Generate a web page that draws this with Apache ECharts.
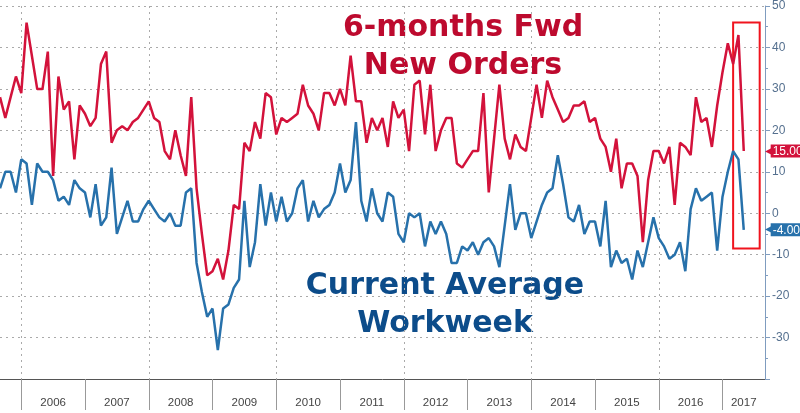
<!DOCTYPE html>
<html>
<head>
<meta charset="utf-8">
<script src="https://cdn.jsdelivr.net/npm/echarts@6/dist/echarts.min.js"></script>
<style>
  html, body { margin: 0; padding: 0; background: #fff; }
  #chart { width: 800px; height: 413px; }
</style>
</head>
<body>
<div id="chart"></div>
<script>
// monthly readings, Sep 2005 .. May 2017
const firstYear = 2005;
const firstMonth = 9;
const monthCount = 145; // axis runs to Sep 2017

const yearLabels = ['2006', '2007', '2008', '2009', '2010', '2011', '2012', '2013', '2014', '2015', '2016', '2017'];

// 6-months forward new orders
const newOrders = [
  28, 23, 28, 33,
  29, 46, 38, 30, 30, 39, 9, 33, 25, 27, 13, 26,
  24, 21, 23, 36, 39, 17, 20, 21, 20, 22, 23, 25,
  27, 23, 22, 15, 13, 20, 14, 9, 28, 6, -5, -15,
  -14, -11, -16, -9, 2, 1, 17, 15, 22, 18, 29, 28,
  19, 23, 22, 23, 24, 31, 26, 24, 20, 29, 29, 26,
  30, 26, 38, 27, 27, 17, 23, 20, 23, 16, 27, 23,
  25, 15, 31, 32, 19, 31, 15, 20, 23, 23, 12, 11,
  13, 15, 15, 29, 5, 18, 31, 18, 13, 19, 16, 15,
  23, 31, 23, 32, 28, 25, 22, 23, 26, 26, 27, 22,
  23, 18, 16, 10, 18, 6, 12, 12, 9, -7, 8, 15,
  15, 12, 16, 2, 17, 16, 14, 28, 22, 23, 16, 26,
  34, 41, 36, 43, 15
];

// current average workweek
const workweek = [
  6, 10, 10, 5,
  13, 12, 2, 12, 10, 10, 8, 3, 4, 2, 8, 6,
  5, -1, 7, -3, -1, 11, -5, -1, 3, -2, -2, 1,
  3, 1, -1, -2, 0, -3, -3, 5, 6, -12, -19, -25,
  -23, -33, -23, -22, -18, -16, 3, -13, -7, 7, -3, 5,
  -2, 4, -2, 0, 6, 8, -2, 3, -1, 1, 2, 5,
  12, 5, 8, 22, 3, -2, 6, 0, -2, 5, 4, -5,
  -7, 0, -1, 0, -8, -2, -5, -2, -5, -12, -12, -8,
  -9, -7, -10, -7, -6, -8, -13, -3, 7, -4, 0, 0,
  -6, -2, 2, 5, 6, 14, 7, -1, -2, 2, -5, -2,
  -2, -8, 3, -13, -9, -12, -11, -16, -9, -13, -7, -1,
  -6, -8, -11, -10, -7, -14, 1, 6, 3, 4, 5, -9,
  4, 10, 15, 13, -4
];

// highlighted window (red box)
const boxFrom = '2017-03';
const boxTo = '2017-08';
const boxTop = 46;
const boxBottom = -8.5;

const RED = '#d3123b';
const BLUE = '#2771ab';

const months = [];
for (let k = 0; k < monthCount; k++) {
  const m = firstMonth - 1 + k;
  const y = firstYear + Math.floor(m / 12);
  months.push(y + '-' + String((m % 12) + 1).padStart(2, '0'));
}

// year label sits in the middle of its year's span on the axis
const labelAt = {};
yearLabels.forEach((yr) => {
  const jan = months.indexOf(yr + '-01');
  const end = Math.min(jan + 12, months.length - 1);
  labelAt[Math.round((jan + end) / 2)] = yr;
});

function lastTag(values, color) {
  const last = values[values.length - 1];
  return {
    silent: true,
    symbol: ['none', 'none'],
    lineStyle: { color: 'rgba(0,0,0,0)', width: 1 },
    label: {
      show: true,
      position: 'end',
      distance: 0,
      formatter: '{a|◀}{b|' + last.toFixed(2) + '}',
      rich: {
        a: { color: color, fontSize: 10, padding: [0, -2, 0, 0], fontFamily: 'DejaVu Sans' },
        b: { color: '#fff', backgroundColor: color, fontSize: 12, padding: [1, 3, 0, 2], fontFamily: 'Liberation Sans' }
      }
    },
    emphasis: { disabled: true },
    data: [{ yAxis: last }]
  };
}

const dotted = { color: '#aaa', type: [2, 4], width: 1 };

const chart = echarts.init(document.getElementById('chart'));
chart.setOption({
  animation: false,
  grid: { left: -2, right: 35, top: 1, bottom: 34 },
  xAxis: {
    type: 'category',
    data: months,
    boundaryGap: false,
    axisLine: { onZero: false, lineStyle: { color: '#555', width: 1 } },
    axisTick: {
      interval: (i, v) => v.endsWith('-01'),
      length: 31,
      lineStyle: { color: '#999' }
    },
    axisLabel: {
      interval: (i) => labelAt[i] !== undefined,
      formatter: (v, i) => labelAt[i],
      margin: 18,
      color: '#444',
      fontSize: 11.5,
      fontFamily: 'Liberation Sans'
    },
    splitLine: {
      show: true,
      interval: (i, v) => v.endsWith('-01') && Number(v.slice(0, 4)) % 2 === 0,
      lineStyle: dotted
    }
  },
  yAxis: {
    type: 'value',
    position: 'right',
    min: -40,
    max: 50,
    interval: 10,
    axisLine: { show: true, lineStyle: { color: '#7f9cbf' } },
    axisTick: { show: true, length: 5, lineStyle: { color: '#7f9cbf' } },
    minorTick: { show: true, splitNumber: 2, length: 3, lineStyle: { color: '#7f9cbf' } },
    axisLabel: {
      margin: 7,
      color: '#55708f',
      fontSize: 12,
      fontFamily: 'Liberation Sans',
      formatter: (v) => (v === -40 ? '' : String(v))
    },
    splitLine: { show: true, lineStyle: dotted }
  },
  series: [
    {
      name: 'Current Average Workweek',
      type: 'line',
      data: workweek,
      symbol: 'none',
      lineStyle: { color: BLUE, width: 2.5 },
      markLine: lastTag(workweek, BLUE)
    },
    {
      name: '6-months Fwd New Orders',
      type: 'line',
      data: newOrders,
      symbol: 'none',
      lineStyle: { color: RED, width: 2.5 },
      markLine: lastTag(newOrders, RED),
      markArea: {
        silent: true,
        itemStyle: { color: 'rgba(0,0,0,0)', borderColor: '#f0141e', borderWidth: 2 },
        data: [[{ xAxis: boxFrom, yAxis: boxTop }, { xAxis: boxTo, yAxis: boxBottom }]]
      }
    }
  ],
  graphic: [
    {
      type: 'text',
      x: 463,
      y: 47,
      style: {
        text: '6-months Fwd\nNew Orders',
        fill: '#bd0a2e',
        font: 'bold 30px "DejaVu Sans"',
        lineHeight: 38,
        textAlign: 'center',
        textVerticalAlign: 'middle'
      }
    },
    {
      type: 'text',
      x: 445,
      y: 305,
      style: {
        text: 'Current Average\nWorkweek',
        fill: '#0c4c8a',
        font: 'bold 30px "DejaVu Sans"',
        lineHeight: 38,
        textAlign: 'center',
        textVerticalAlign: 'middle'
      }
    }
  ]
});
</script>
</body>
</html>
